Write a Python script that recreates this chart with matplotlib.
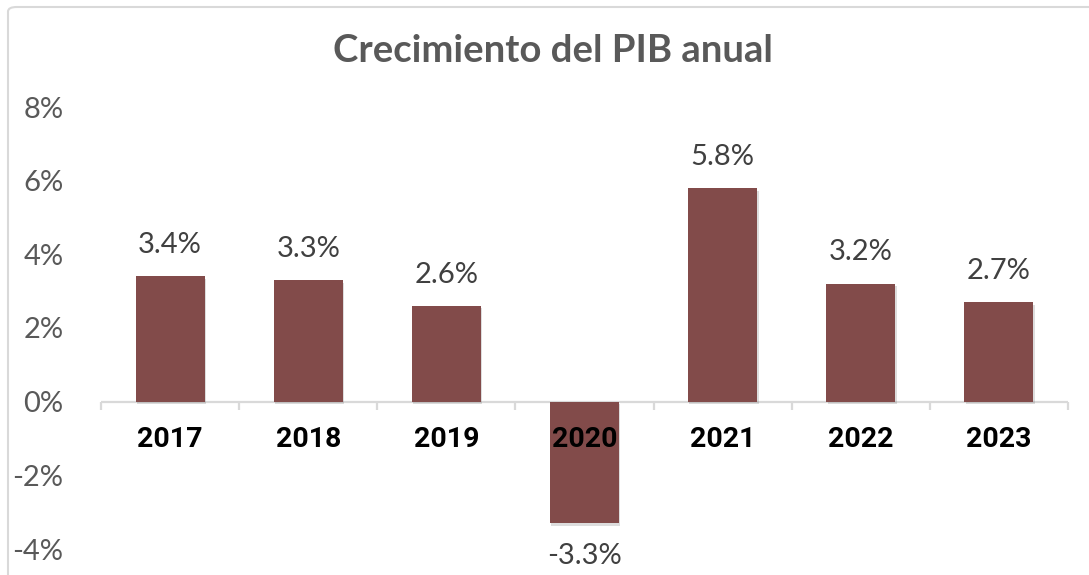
import matplotlib
matplotlib.use("Agg")
import matplotlib.pyplot as plt
from matplotlib.patches import FancyBboxPatch
import matplotlib.patheffects as pe

years = ["2017", "2018", "2019", "2020", "2021", "2022", "2023"]
growth = [3.4, 3.3, 2.6, -3.3, 5.8, 3.2, 2.7]
value_labels = ["3.4%", "3.3%", "2.6%", "-3.3%", "5.8%", "3.2%", "2.7%"]
yticks = [-4, -2, 0, 2, 4, 6, 8]
ytick_labels = ["-4%", "-2%", "0%", "2%", "4%", "6%", "8%"]
title = "Crecimiento del PIB anual"

W, H = 1089, 575
fig = plt.figure(figsize=(W / 100, H / 100), dpi=100)
fig.patch.set_facecolor("white")

border = FancyBboxPatch((8 / W, -0.2), 1.2, 1.2 - 7 / H,
                        boxstyle="round,pad=0,rounding_size=0.008",
                        transform=fig.transFigure, fill=False,
                        edgecolor="#d9d9d9", linewidth=1.5, zorder=0)
fig.patches.append(border)

ax = fig.add_axes([101 / W, 1 - 549 / H, (1068 - 101) / W, (549 - 107) / H])
ax.set_xlim(-0.5, len(years) - 0.5)
ax.set_ylim(-4, 8)

bar_color = "#824B4A"
x = list(range(len(years)))
bars = ax.bar(x, growth, width=0.5, color=bar_color, zorder=3)
for b in bars:
    b.set_path_effects([pe.SimplePatchShadow(offset=(1.0, -1.8), shadow_rgbFace="#666666", alpha=0.22),
                        pe.Normal()])

for s in ["top", "right", "left", "bottom"]:
    ax.spines[s].set_visible(False)

ax.axhline(0, color="#d9d9d9", linewidth=1.6, zorder=2)
for i in range(len(years) + 1):
    ax.plot([i - 0.5, i - 0.5], [0, -0.22], color="#d9d9d9", linewidth=1.6,
            zorder=2, clip_on=False, solid_capstyle="butt")

ax.set_yticks(yticks)
ax.set_yticklabels(ytick_labels)
ax.tick_params(axis="y", length=0, pad=27, labelsize=21, labelcolor="#595959")
for lbl in ax.get_yticklabels():
    lbl.set_fontfamily(["Lato", "DejaVu Sans"])
    lbl.set_fontweight("normal")
ax.set_xticks([])

for xi, yr in zip(x, years):
    ax.text(xi, -1.02, yr, ha="center", va="center", fontsize=20.5,
            fontweight="bold", color="black", family=["Roboto", "DejaVu Sans"], zorder=5)

for xi, v, lab in zip(x, growth, value_labels):
    if v >= 0:
        ax.text(xi, v + 0.85, lab, ha="center", va="center", fontsize=21,
                fontweight="normal", color="#404040", family=["Lato", "DejaVu Sans"])
    else:
        ax.text(xi, v - 0.88, lab, ha="center", va="center", fontsize=21,
                fontweight="normal", color="#404040", family=["Lato", "DejaVu Sans"])

fig.text(553 / W, 1 - 51 / H, title, ha="center", va="center", fontsize=27.5,
         fontweight="bold", color="#595959", family=["Lato", "DejaVu Sans"])

fig.savefig("out.png", dpi=100, facecolor="white")
